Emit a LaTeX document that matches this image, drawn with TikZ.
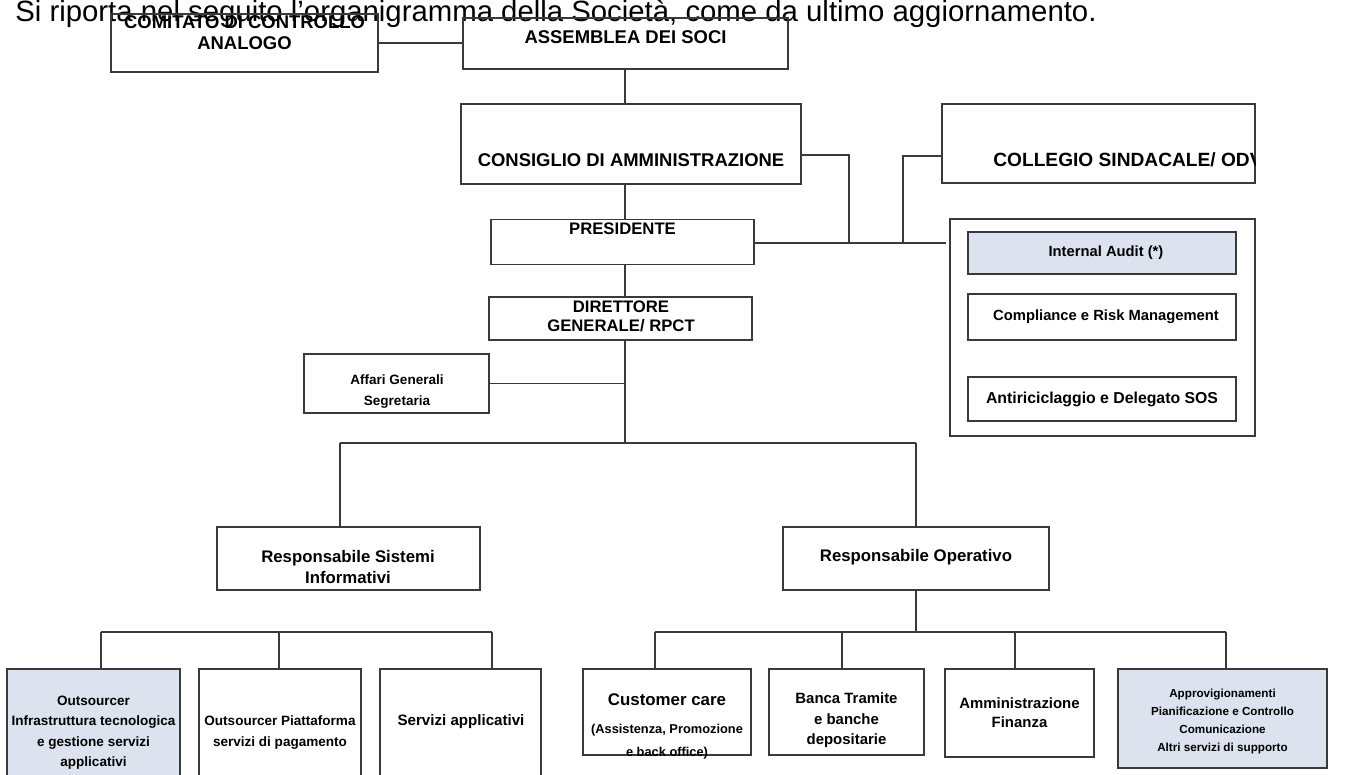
\documentclass[tikz,border=0pt]{standalone}
\usepackage{fontspec}
\setmainfont{Liberation Sans}
\definecolor{boxblue}{HTML}{DCE3EE}
\definecolor{linegray}{HTML}{3A3A3A}

\begin{document}
\begin{tikzpicture}[x=0.02cm,y=-0.02cm]
\tikzset{box/.style = {shape=rectangle,draw=linegray,line width=0.75pt,inner sep=0pt}}
\tikzset{link/.style = {draw=linegray,line width=0.6pt}}
\tikzset{txt/.style = {inner sep=0pt,align=center,font=\bfseries}}
\useasboundingbox (0,0) rectangle (1345,774);
\clip (0,0) rectangle (1345,774);

\node[anchor=base west,inner sep=0pt,font=\fontsize{16.7}{20}\selectfont] (title) at (15,21)
  {Si riporta nel seguito l’organigramma della Società, come da ultimo aggiornamento.};

% vertici
\node[box,minimum width=5.34cm,minimum height=1.16cm] (cca) at (244.5,43) {};
\node[box,minimum width=6.5cm,minimum height=1.02cm] (ads) at (625.5,43.5) {};
\node[box,minimum width=6.8cm,minimum height=1.6cm] (cda) at (631,144) {};
\node[box,minimum width=6.26cm,minimum height=1.58cm] (col) at (1098.5,143.5) {};
\node[box,minimum width=5.26cm,minimum height=0.9cm] (pres) at (622.5,242) {};
\node[box,minimum width=5.26cm,minimum height=0.86cm] (dg) at (620.5,318.5) {};
\node[box,minimum width=3.7cm,minimum height=1.18cm] (agen) at (396.5,383.5) {};

% controllo
\node[box,minimum width=6.1cm,minimum height=4.34cm] (panel) at (1102.5,327.5) {};
\node[box,fill=boxblue,minimum width=5.36cm,minimum height=0.84cm] (ia) at (1102,253) {};
\node[box,minimum width=5.36cm,minimum height=0.92cm] (crm) at (1102,317) {};
\node[box,minimum width=5.36cm,minimum height=0.88cm] (aml) at (1102,399) {};

% responsabili
\node[box,minimum width=5.26cm,minimum height=1.26cm] (rsi) at (348.5,558.5) {};
\node[box,minimum width=5.32cm,minimum height=1.26cm] (rop) at (916,558.5) {};

% uffici
\node[box,fill=boxblue,minimum width=3.46cm,minimum height=2.42cm] (b1) at (93.5,729.5) {};
\node[box,minimum width=3.24cm,minimum height=2.42cm] (b2) at (280,729.5) {};
\node[box,minimum width=3.22cm,minimum height=2.42cm] (b3) at (460.5,729.5) {};
\node[box,minimum width=3.36cm,minimum height=1.72cm] (cc) at (667,712) {};
\node[box,minimum width=3.1cm,minimum height=1.72cm] (bt) at (846.5,712) {};
\node[box,minimum width=2.98cm,minimum height=1.76cm] (af) at (1019.5,713) {};
\node[box,fill=boxblue,minimum width=4.18cm,minimum height=1.98cm] (aps) at (1222.5,718.5) {};

% testi
\node[txt,font=\bfseries\fontsize{10.5}{12}\selectfont] (cca-t) at (244.5,33) {COMITATO DI CONTROLLO\\ANALOGO};
\node[txt,font=\bfseries\fontsize{10.5}{12}\selectfont] (ads-t) at (625.5,37) {ASSEMBLEA DEI SOCI};
\node[txt,font=\bfseries\fontsize{10.5}{12}\selectfont] (cda-t) at (631,160) {CONSIGLIO DI AMMINISTRAZIONE};
\begin{scope}
\clip (col.north west) rectangle (col.south east);
\node[txt,anchor=west,font=\bfseries\fontsize{10.9}{12}\selectfont] (col-t) at (993,160) {COLLEGIO SINDACALE/ ODV};
\end{scope}
\node[txt,font=\bfseries\fontsize{9.5}{11}\selectfont] (pres-t) at (622.5,229) {PRESIDENTE};
\node[txt,font=\bfseries\fontsize{9.5}{10.8}\selectfont] (dg-t) at (621,316.5) {DIRETTORE\\GENERALE/ RPCT};
\node[txt,font=\bfseries\fontsize{7.7}{12}\selectfont] (agen-t) at (397,391.5) {Affari Generali\\Segretaria};
\node[txt,font=\bfseries\fontsize{8.4}{10}\selectfont] (ia-t) at (1106,253) {Internal Audit (*)};
\node[txt,font=\bfseries\fontsize{8.4}{10}\selectfont] (crm-t) at (1106,317) {Compliance e Risk Management};
\node[txt,font=\bfseries\fontsize{9}{10}\selectfont] (aml-t) at (1102,399) {Antiriciclaggio e Delegato SOS};
\node[txt,font=\bfseries\fontsize{9.55}{11.4}\selectfont] (rsi-t) at (348,567) {Responsabile Sistemi\\Informativi};
\node[txt,font=\bfseries\fontsize{9.55}{11.4}\selectfont] (rop-t) at (916,557) {Responsabile Operativo};
\node[txt,font=\bfseries\fontsize{7.7}{11.6}\selectfont] (b1-t) at (93.5,732.5) {Outsourcer\\Infrastruttura tecnologica\\e gestione servizi\\applicativi};
\node[txt,font=\bfseries\fontsize{7.7}{11.6}\selectfont] (b2-t) at (280,732.5) {Outsourcer Piattaforma\\servizi di pagamento};
\node[txt,font=\bfseries\fontsize{8.6}{11}\selectfont] (b3-t) at (461,722) {Servizi applicativi};
\node[txt,font=\bfseries\fontsize{9.6}{11}\selectfont] (cc-t) at (667,700) {Customer care};
\node[txt,font=\bfseries\fontsize{7.3}{13}\selectfont] (cc-s) at (667,741.5) {(Assistenza, Promozione\\e back office)};
\node[txt,font=\bfseries\fontsize{8.5}{11.7}\selectfont] (bt-t) at (846.5,720.5) {Banca Tramite\\e banche\\depositarie};
\node[txt,font=\bfseries\fontsize{8.5}{11}\selectfont] (af-t) at (1019.5,712.5) {Amministrazione\\Finanza};
\node[txt,font=\bfseries\fontsize{6.65}{10.4}\selectfont] (aps-t) at (1222.5,721.5) {Approvigionamenti\\Pianificazione e Controllo\\Comunicazione\\Altri servizi di supporto};

% snodi
\coordinate (trunk) at (625,0);
\coordinate (j1) at (849,243);
\coordinate (j2) at (903,243);
\coordinate (pend) at (946,243);
\coordinate (bus) at (625,443);
\coordinate (lb) at (340,443);
\coordinate (rb) at (916,443);
\coordinate (d1) at (101,632);
\coordinate (d2) at (279,632);
\coordinate (d3) at (492,632);
\coordinate (e1) at (655,632);
\coordinate (e2) at (842,632);
\coordinate (e3) at (1015,632);
\coordinate (e4) at (1226,632);

\draw[link] (cca.east) to (cca.east -| ads.west);
\draw[link] (ads.south -| trunk) to (cda.north -| trunk);
\draw[link] (cda.south -| trunk) to (pres.north -| trunk);
\draw[link] (pres.south -| trunk) to (dg.north -| trunk);
\draw[link] (dg.south -| trunk) to (bus);
\draw[link] (agen.east) to (agen.east -| trunk);
\draw[link] ([yshift=-0.22cm]cda.east) -| (j1);
\draw[link] ([yshift=-0.25cm]col.west) -| (j2);
\draw[link] (pres.east |- j1) to (pend);
\draw[link] (lb) to (rb);
\draw[link] (lb) to (lb |- rsi.north);
\draw[link] (rb) to (rop.north);
\draw[link] (rsi.south -| lb) to (rsi.south -| lb |- d1);
\draw[link] (rop.south) to (rop.south |- e1);
\draw[link] (d1) to (d3);
\draw[link] (e1) to (e4);
\foreach \d/\b in {d1/b1,d2/b2,d3/b3,e1/cc,e2/bt,e3/af,e4/aps}
  \draw[link] (\d) to (\d |- \b.north);
\end{tikzpicture}
\end{document}
